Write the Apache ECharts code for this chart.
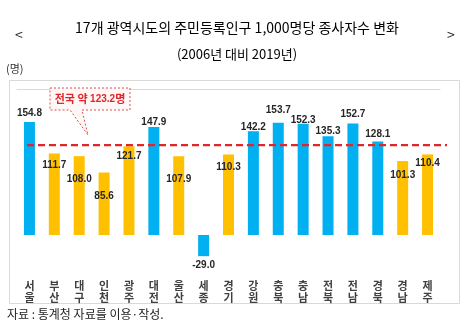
<!DOCTYPE html>
<html>
<head>
<meta charset="utf-8">
<script src="https://cdn.jsdelivr.net/npm/echarts@6/dist/echarts.min.js"></script>
<style>
  html, body { margin: 0; padding: 0; background: #fff; }
  #chart { width: 474px; height: 328px; }
</style>
</head>
<body>
<div id="chart"></div>
<script>
// 17개 광역시도 — 주민등록인구 1,000명당 종사자수 변화 (2006년 대비 2019년)
const regions = ['서울', '부산', '대구', '인천', '광주', '대전', '울산', '세종', '경기',
                 '강원', '충북', '충남', '전북', '전남', '경북', '경남', '제주'];
const changes = [154.8, 111.7, 108.0, 85.6, 121.7, 147.9, 107.9, -29.0, 110.3,
                 142.2, 153.7, 152.3, 135.3, 152.7, 128.1, 101.3, 110.4];
const nationalAvg = 123.2;
// 파란색으로 강조하는 시도
const highlighted = ['서울', '대전', '세종', '강원', '충북', '충남', '전북', '전남', '경북'];

// 막대 윗변 기준 수치 라벨 중심의 세로 이동량(px, +는 아래쪽)
const labelShift = {
  '서울': -9.5, '부산': 11.5, '대구': 23, '인천': 23.5, '광주': 10, '대전': -5,
  '울산': 23, '경기': 12, '강원': -4.6, '충북': -13, '충남': -4.5, '전북': -5,
  '전남': -10, '경북': -7.7, '경남': 14, '제주': 8
};

const BLUE = '#00B0F0';
const YELLOW = '#FFC000';
const KR = '"Noto Sans CJK KR", "Noto Sans", sans-serif';

const barData = regions.map((name, i) => {
  const v = changes[i];
  const item = {
    value: v,
    itemStyle: { color: highlighted.includes(name) ? BLUE : YELLOW }
  };
  if (v < 0) {
    item.label = { position: 'bottom', distance: 4 };
  } else {
    item.label = { position: 'top', distance: 0, offset: [0, (labelShift[name] || 0) + 5.5] };
  }
  return item;
});

const Y_MIN = -50, Y_MAX = 200;
const GRID_TOP = 89, GRID_H = 182.5;

const chart = echarts.init(document.getElementById('chart'), null, { renderer: 'canvas' });
chart.setOption({
  animation: false,
  backgroundColor: '#fff',
  textStyle: { fontFamily: KR },
  title: [
    {
      text: '17개 광역시도의 주민등록인구 1,000명당 종사자수 변화',
      left: 'center', top: 16,
      textStyle: { fontSize: 14, fontWeight: 'normal', color: '#000', fontFamily: KR }
    },
    {
      text: '(2006년 대비 2019년)',
      left: 'center', top: 43,
      textStyle: { fontSize: 13, fontWeight: 'normal', color: '#000', fontFamily: KR }
    }
  ],
  graphic: [
    { type: 'text', left: 15, top: 28, style: { text: '<', fill: '#222', font: '14px ' + KR } },
    { type: 'text', left: 447, top: 28, style: { text: '>', fill: '#222', font: '14px ' + KR } },
    { type: 'text', left: 6, top: 63, style: { text: '(명)', fill: '#333', font: '11px ' + KR } },
    {
      type: 'rect', z: -1,
      shape: { x: 9.5, y: 80.5, width: 450, height: 223 },
      style: { fill: '#fff', stroke: '#d9d9d9', lineWidth: 1 }
    },
    {
      type: 'polygon', z: 20,
      shape: { points: [[50, 88], [130, 88], [130, 110], [82, 110], [88, 135], [70, 110], [50, 110]] },
      style: { fill: '#fff6f6', stroke: '#d9534f', lineWidth: 1, lineDash: [2, 2] }
    },
    {
      type: 'text', z: 21, x: 90, y: 99,
      style: {
        text: '{k|전국 약 }{n|' + nationalAvg.toFixed(1) + '}{k|명}',
        align: 'center', verticalAlign: 'middle',
        rich: {
          k: { fontFamily: KR, fontSize: 11, fontWeight: 'bold', fill: '#e0262b', color: '#e0262b' },
          n: { fontFamily: 'Liberation Sans', fontSize: 10, fontWeight: 'bold', fill: '#e0262b', color: '#e0262b' }
        }
      }
    },
    { type: 'text', left: 7, top: 308, style: { text: '자료 : 통계청 자료를 이용·작성.', fill: '#222', font: '12px ' + KR } }
  ],
  grid: [
    { left: 17, right: 34, top: GRID_TOP, height: GRID_H },
    { left: 27, right: 27, top: GRID_TOP, height: GRID_H }
  ],
  xAxis: [
    {
      type: 'category', gridIndex: 0, data: regions,
      axisLine: { show: false }, axisTick: { show: false },
      axisLabel: {
        interval: 0, margin: 8, color: '#404040', fontSize: 11, lineHeight: 12,
        fontFamily: KR, fontWeight: 'bold',
        formatter: s => s.split('').join('\n')
      }
    },
    {
      type: 'category', gridIndex: 0, data: regions,
      axisLine: { show: true, onZero: true, lineStyle: { color: '#d9d9d9', width: 1 } },
      axisTick: { show: false }, axisLabel: { show: false }
    },
    { type: 'value', gridIndex: 1, min: 0, max: 1, show: false }
  ],
  yAxis: [
    { type: 'value', gridIndex: 0, min: Y_MIN, max: Y_MAX, show: false, splitLine: { show: false } },
    { type: 'value', gridIndex: 1, min: Y_MIN, max: Y_MAX, show: false, splitLine: { show: false } }
  ],
  series: [
    {
      type: 'bar', xAxisIndex: 0, yAxisIndex: 0,
      barWidth: 11,
      data: barData,
      label: {
        show: true,
        formatter: p => p.value.toFixed(1),
        fontFamily: '"Liberation Sans", Arial, sans-serif',
        fontSize: 10, fontWeight: 'bold', color: '#262626'
      },
      z: 2
    },
    {
      type: 'line', xAxisIndex: 2, yAxisIndex: 1,
      data: [[0, nationalAvg], [1, nationalAvg]],
      symbol: 'none',
      lineStyle: { color: '#e0262b', width: 2.2, type: [7, 4] },
      z: 5
    }
  ]
});
</script>
</body>
</html>
